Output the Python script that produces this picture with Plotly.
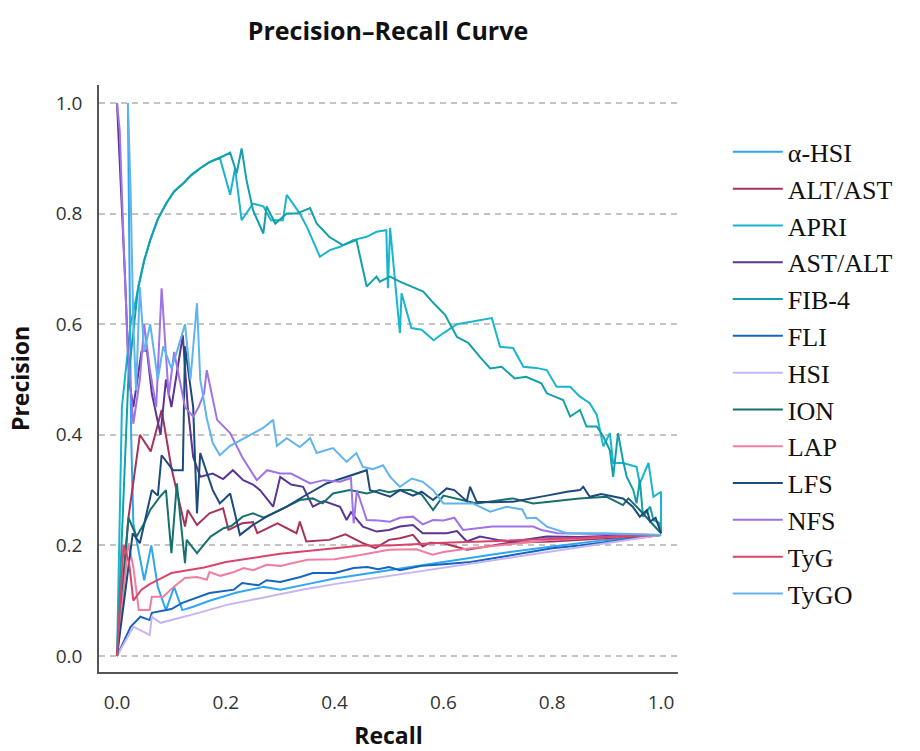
import plotly.graph_objects as go

# ---------------- data ----------------
series_names = ["α-HSI", "ALT/AST", "APRI", "AST/ALT", "FIB-4", "FLI", "HSI",
                "ION", "LAP", "LFS", "NFS", "TyG", "TyGO"]
series_colors = ["#2ea6f0", "#a8325a", "#19b5cf", "#5a3592", "#13a0ab", "#1565c0",
                 "#c8b4f2", "#17706e", "#f07ea0", "#1c4a7c", "#9f72e8", "#d8446a", "#60b4ee"]

ahsi_recall = [0.02, 0.022, 0.026, 0.03, 0.04, 0.05, 0.063, 0.075, 0.09, 0.105, 0.12, 0.14, 0.17,
               0.22, 0.27, 0.3, 0.35, 0.4, 0.5, 0.6, 0.7, 0.8, 0.9, 1.0]
ahsi_precision = [1.0, 0.75, 0.4, 0.24, 0.19, 0.137, 0.2, 0.125, 0.083, 0.125, 0.083, 0.089, 0.1,
                  0.115, 0.125, 0.12, 0.13, 0.14, 0.155, 0.17, 0.185, 0.198, 0.21, 0.219]

altast_recall = [0.0, 0.021, 0.042, 0.062, 0.082, 0.1, 0.125, 0.13, 0.147, 0.17, 0.195, 0.205, 0.23,
                 0.25, 0.258, 0.295, 0.33, 0.336, 0.348, 0.39, 0.42, 0.45, 0.475, 0.5, 0.52, 0.544,
                 0.562, 0.575, 0.6, 0.643, 0.68, 0.72, 0.8, 0.9, 1.0]
altast_precision = [0.0, 0.25, 0.4, 0.37, 0.445, 0.34, 0.234, 0.264, 0.237, 0.258, 0.267, 0.228, 0.24,
                    0.242, 0.222, 0.24, 0.222, 0.243, 0.207, 0.21, 0.22, 0.205, 0.195, 0.21, 0.213,
                    0.219, 0.198, 0.205, 0.204, 0.192, 0.198, 0.205, 0.207, 0.213, 0.219]

apri_recall = [0.0, 0.009, 0.025, 0.039, 0.05, 0.061, 0.075, 0.091, 0.105, 0.122, 0.137, 0.153, 0.17,
               0.189, 0.208, 0.217, 0.229, 0.25, 0.269, 0.283, 0.305, 0.312, 0.336, 0.349, 0.373,
               0.391, 0.41, 0.434, 0.459, 0.477, 0.495, 0.498, 0.502, 0.52, 0.523, 0.541, 0.56,
               0.582, 0.6, 0.625, 0.667, 0.689, 0.704, 0.728, 0.747, 0.77, 0.79, 0.808, 0.833,
               0.851, 0.869, 0.882, 0.894, 0.906, 0.912, 0.93, 0.955, 0.961, 0.977, 0.986, 1.0, 1.0]
apri_precision = [0.0, 0.45, 0.6, 0.668, 0.715, 0.752, 0.79, 0.819, 0.84, 0.855, 0.87, 0.882, 0.893,
                  0.901, 0.834, 0.882, 0.788, 0.818, 0.813, 0.788, 0.788, 0.834, 0.8, 0.776, 0.722,
                  0.734, 0.74, 0.752, 0.758, 0.767, 0.77, 0.665, 0.774, 0.584, 0.656, 0.593, 0.59,
                  0.571, 0.584, 0.6, 0.608, 0.611, 0.559, 0.557, 0.523, 0.521, 0.517, 0.487, 0.487,
                  0.469, 0.457, 0.436, 0.379, 0.403, 0.349, 0.349, 0.342, 0.312, 0.349, 0.288, 0.297, 0.222]

astalt_recall = [0.0, 0.004, 0.015, 0.022, 0.03, 0.045, 0.055, 0.064, 0.08, 0.09, 0.1, 0.121, 0.13,
                 0.14, 0.153, 0.176, 0.195, 0.213, 0.232, 0.25, 0.263, 0.287, 0.3, 0.32, 0.342, 0.36,
                 0.38, 0.41, 0.422, 0.43, 0.452, 0.477, 0.5, 0.52, 0.544, 0.562, 0.606, 0.625, 0.643,
                 0.667, 0.7, 0.728, 0.79, 0.85, 0.9, 1.0]
astalt_precision = [1.0, 0.92, 0.68, 0.5, 0.45, 0.55, 0.553, 0.475, 0.4, 0.5, 0.45, 0.58, 0.45,
                    0.36, 0.324, 0.33, 0.32, 0.336, 0.318, 0.31, 0.3, 0.27, 0.324, 0.31, 0.306, 0.27,
                    0.28, 0.27, 0.246, 0.26, 0.234, 0.225, 0.228, 0.234, 0.237, 0.222, 0.222, 0.226,
                    0.207, 0.216, 0.21, 0.207, 0.216, 0.215, 0.217, 0.219]

fib4_recall = [0.0, 0.021, 0.039, 0.05, 0.061, 0.075, 0.091, 0.105, 0.122, 0.137, 0.153, 0.17, 0.189,
               0.208, 0.22, 0.229, 0.238, 0.25, 0.269, 0.275, 0.291, 0.312, 0.33, 0.355, 0.367, 0.39,
               0.415, 0.44, 0.459, 0.477, 0.483, 0.502, 0.52, 0.541, 0.563, 0.58, 0.603, 0.625,
               0.646, 0.667, 0.686, 0.707, 0.731, 0.752, 0.78, 0.79, 0.82, 0.833, 0.851, 0.863,
               0.882, 0.894, 0.906, 0.912, 0.921, 0.93, 0.937, 0.949, 0.955, 0.961, 0.967, 0.98,
               0.986, 0.998, 1.0]
fib4_precision = [0.0, 0.505, 0.668, 0.715, 0.752, 0.79, 0.819, 0.84, 0.855, 0.87, 0.882, 0.893, 0.901,
                  0.91, 0.873, 0.918, 0.861, 0.806, 0.764, 0.813, 0.782, 0.8, 0.8, 0.81, 0.782, 0.758,
                  0.743, 0.752, 0.668, 0.686, 0.677, 0.686, 0.677, 0.668, 0.659, 0.64, 0.617, 0.577,
                  0.566, 0.541, 0.52, 0.523, 0.502, 0.505, 0.493, 0.475, 0.463, 0.433, 0.445, 0.415,
                  0.415, 0.397, 0.372, 0.324, 0.403, 0.354, 0.324, 0.3, 0.276, 0.318, 0.252, 0.27,
                  0.246, 0.24, 0.222]

fli_recall = [0.0, 0.025, 0.043, 0.06, 0.064, 0.1, 0.12, 0.17, 0.215, 0.23, 0.26, 0.275, 0.3, 0.337,
              0.36, 0.4, 0.435, 0.46, 0.48, 0.5, 0.52, 0.56, 0.6, 0.65, 0.7, 0.75, 0.8, 0.85, 0.9,
              0.95, 1.0]
fli_precision = [0.0, 0.053, 0.071, 0.065, 0.078, 0.085, 0.096, 0.114, 0.12, 0.132, 0.128, 0.137,
                 0.134, 0.143, 0.15, 0.15, 0.159, 0.161, 0.157, 0.161, 0.155, 0.163, 0.166, 0.17,
                 0.178, 0.186, 0.195, 0.2, 0.206, 0.212, 0.219]

hsi_recall = [0.0, 0.03, 0.06, 0.064, 0.08, 0.12, 0.15, 0.2, 0.28, 0.34, 0.4, 0.5, 0.6, 0.7, 0.8,
              0.9, 1.0]
hsi_precision = [0.0, 0.053, 0.038, 0.071, 0.06, 0.07, 0.078, 0.092, 0.108, 0.12, 0.13, 0.145, 0.16,
                 0.175, 0.19, 0.205, 0.219]

ion_recall = [0.0, 0.021, 0.036, 0.05, 0.061, 0.079, 0.09, 0.1, 0.11, 0.125, 0.128, 0.147, 0.172,
              0.196, 0.21, 0.231, 0.25, 0.27, 0.312, 0.336, 0.36, 0.378, 0.397, 0.428, 0.459, 0.483,
              0.5, 0.52, 0.54, 0.56, 0.581, 0.6, 0.661, 0.728, 0.765, 0.8, 0.85, 0.9, 0.93, 0.94,
              0.96, 1.0]
ion_precision = [0.0, 0.25, 0.216, 0.24, 0.264, 0.288, 0.3, 0.186, 0.312, 0.168, 0.21, 0.186, 0.216,
                 0.231, 0.235, 0.252, 0.258, 0.25, 0.27, 0.282, 0.285, 0.276, 0.294, 0.3, 0.294, 0.3,
                 0.296, 0.3, 0.3, 0.292, 0.264, 0.29, 0.276, 0.285, 0.276, 0.28, 0.285, 0.288, 0.273,
                 0.285, 0.265, 0.222]

lap_recall = [0.0, 0.021, 0.03, 0.04, 0.06, 0.064, 0.085, 0.104, 0.125, 0.147, 0.165, 0.17, 0.19,
              0.215, 0.233, 0.25, 0.275, 0.3, 0.35, 0.4, 0.45, 0.5, 0.55, 0.58, 0.6, 0.65, 0.7,
              0.75, 0.8, 0.9, 1.0]
lap_precision = [0.0, 0.204, 0.161, 0.083, 0.083, 0.107, 0.107, 0.125, 0.141, 0.143, 0.138, 0.152,
                 0.145, 0.152, 0.159, 0.155, 0.165, 0.163, 0.174, 0.175, 0.183, 0.192, 0.193, 0.183,
                 0.188, 0.195, 0.2, 0.205, 0.21, 0.215, 0.219]

lfs_recall = [0.0, 0.029, 0.042, 0.064, 0.075, 0.082, 0.103, 0.121, 0.125, 0.14, 0.147, 0.153, 0.176,
              0.189, 0.208, 0.226, 0.25, 0.275, 0.312, 0.342, 0.385, 0.441, 0.459, 0.465, 0.483,
              0.502, 0.52, 0.544, 0.56, 0.581, 0.606, 0.62, 0.643, 0.649, 0.661, 0.69, 0.728,
              0.765, 0.79, 0.827, 0.851, 0.857, 0.869, 0.89, 0.912, 0.93, 0.948, 0.961, 0.974,
              0.98, 0.99, 1.0]
lfs_precision = [0.0, 0.222, 0.204, 0.3, 0.29, 0.363, 0.336, 0.336, 0.56, 0.45, 0.258, 0.367, 0.3,
                 0.276, 0.294, 0.219, 0.237, 0.252, 0.27, 0.288, 0.312, 0.33, 0.336, 0.3, 0.294,
                 0.288, 0.3, 0.29, 0.297, 0.282, 0.303, 0.3, 0.28, 0.306, 0.279, 0.278, 0.279, 0.285,
                 0.29, 0.297, 0.3, 0.306, 0.288, 0.293, 0.288, 0.285, 0.27, 0.252, 0.264, 0.243,
                 0.25, 0.222]

nfs_recall = [0.0, 0.005, 0.012, 0.02, 0.03, 0.042, 0.05, 0.06, 0.072, 0.082, 0.095, 0.105, 0.115,
              0.125, 0.14, 0.15, 0.16, 0.165, 0.184, 0.208, 0.23, 0.257, 0.276, 0.3, 0.32, 0.355,
              0.38, 0.41, 0.43, 0.435, 0.441, 0.459, 0.48, 0.502, 0.52, 0.544, 0.562, 0.581, 0.6,
              0.62, 0.636, 0.69, 0.765, 0.78, 0.81, 0.9, 1.0]
nfs_precision = [1.0, 0.95, 0.75, 0.55, 0.42, 0.5, 0.6, 0.52, 0.45, 0.665, 0.47, 0.55, 0.5, 0.45,
                 0.433, 0.45, 0.475, 0.517, 0.427, 0.403, 0.36, 0.318, 0.336, 0.33, 0.33, 0.312,
                 0.318, 0.315, 0.322, 0.24, 0.3, 0.246, 0.245, 0.243, 0.25, 0.252, 0.238, 0.246,
                 0.245, 0.25, 0.228, 0.234, 0.234, 0.228, 0.222, 0.221, 0.219]

tyg_recall = [0.0, 0.012, 0.022, 0.03, 0.045, 0.06, 0.08, 0.1, 0.13, 0.16, 0.2, 0.25, 0.3, 0.35,
              0.4, 0.45, 0.5, 0.55, 0.6, 0.7, 0.8, 0.9, 1.0]
tyg_precision = [0.0, 0.2, 0.17, 0.1, 0.12, 0.13, 0.14, 0.15, 0.155, 0.16, 0.17, 0.178, 0.185, 0.19,
                 0.195, 0.2, 0.2, 0.203, 0.205, 0.208, 0.212, 0.215, 0.219]

tygo_recall = [0.02, 0.025, 0.03, 0.035, 0.042, 0.05, 0.061, 0.075, 0.085, 0.1, 0.11, 0.125, 0.135,
               0.147, 0.153, 0.165, 0.176, 0.189, 0.208, 0.226, 0.268, 0.287, 0.294, 0.312, 0.336,
               0.355, 0.367, 0.397, 0.422, 0.44, 0.452, 0.47, 0.489, 0.502, 0.52, 0.542, 0.562,
               0.581, 0.6, 0.654, 0.686, 0.716, 0.745, 0.753, 0.77, 0.79, 0.81, 0.827, 0.9, 1.0]
tygo_precision = [1.0, 0.84, 0.6, 0.48, 0.667, 0.55, 0.6, 0.5, 0.56, 0.52, 0.55, 0.6, 0.5, 0.638,
                  0.5, 0.43, 0.385, 0.363, 0.38, 0.39, 0.412, 0.427, 0.38, 0.394, 0.378, 0.394,
                  0.367, 0.376, 0.351, 0.367, 0.342, 0.338, 0.345, 0.324, 0.306, 0.321, 0.315, 0.3,
                  0.276, 0.276, 0.261, 0.27, 0.265, 0.249, 0.25, 0.234, 0.228, 0.222, 0.222, 0.219]

x_tick_values = [0.0, 0.2, 0.4, 0.6, 0.8, 1.0]
x_tick_labels = ["0.0", "0.2", "0.4", "0.6", "0.8", "1.0"]
y_tick_values = [0.0, 0.2, 0.4, 0.6, 0.8, 1.0]
y_tick_labels = ["0.0", "0.2", "0.4", "0.6", "0.8", "1.0"]

series_recall = [ahsi_recall, altast_recall, apri_recall, astalt_recall, fib4_recall, fli_recall,
                 hsi_recall, ion_recall, lap_recall, lfs_recall, nfs_recall, tyg_recall, tygo_recall]
series_precision = [ahsi_precision, altast_precision, apri_precision, astalt_precision,
                    fib4_precision, fli_precision, hsi_precision, ion_precision, lap_precision,
                    lfs_precision, nfs_precision, tyg_precision, tygo_precision]

# ---------------- figure ----------------
fig = go.Figure()
for name, color, rec, prec in zip(series_names, series_colors, series_recall, series_precision):
    fig.add_trace(go.Scatter(x=rec, y=prec, mode="lines", name=name, legendgroup=name,
                             line=dict(color=color, width=2)))

fig.update_layout(
    width=920, height=751,
    margin=dict(l=99, r=242, t=85, b=79, autoexpand=False),
    paper_bgcolor="white", plot_bgcolor="white",
    title=dict(text="<b>Precision–Recall Curve</b>", x=0.4217, xanchor="center",
               y=1 - 31 / 751, yanchor="middle", yref="container",
               font=dict(family="Open Sans", size=25, color="#111")),
    legend=dict(x=1.086, xanchor="left", y=0.926, yanchor="top",
                font=dict(family="Liberation Serif", size=26, color="#111"),
                bgcolor="rgba(0,0,0,0)", borderwidth=0, tracegroupgap=0, itemwidth=50),
    showlegend=True,
)
fig.update_xaxes(range=[-0.0331, 1.0312], tickvals=x_tick_values, ticktext=x_tick_labels,
                 showgrid=False, zeroline=False, showline=True, linecolor="#555", linewidth=1.5,
                 ticks="", ticklabelstandoff=12,
                 tickfont=dict(family="Open Sans", size=19, color="#333"),
                 title=dict(text="<b>Recall</b>", standoff=28,
                            font=dict(family="Open Sans", size=23, color="#111")))
fig.update_yaxes(range=[-0.0289, 1.0325], tickvals=y_tick_values, ticktext=y_tick_labels,
                 showgrid=True, gridcolor="#c4c4c4", gridwidth=2, griddash="6px,5px",
                 zeroline=False, showline=True, linecolor="#555", linewidth=1.5,
                 ticks="", ticklabelstandoff=11,
                 tickfont=dict(family="Open Sans", size=19, color="#333"),
                 title=dict(text="<b>Precision</b>", standoff=20,
                            font=dict(family="Open Sans", size=23, color="#111")))

fig.write_html("out.html", config={"displayModeBar": False},
               post_script="document.body.style.margin='0';")
